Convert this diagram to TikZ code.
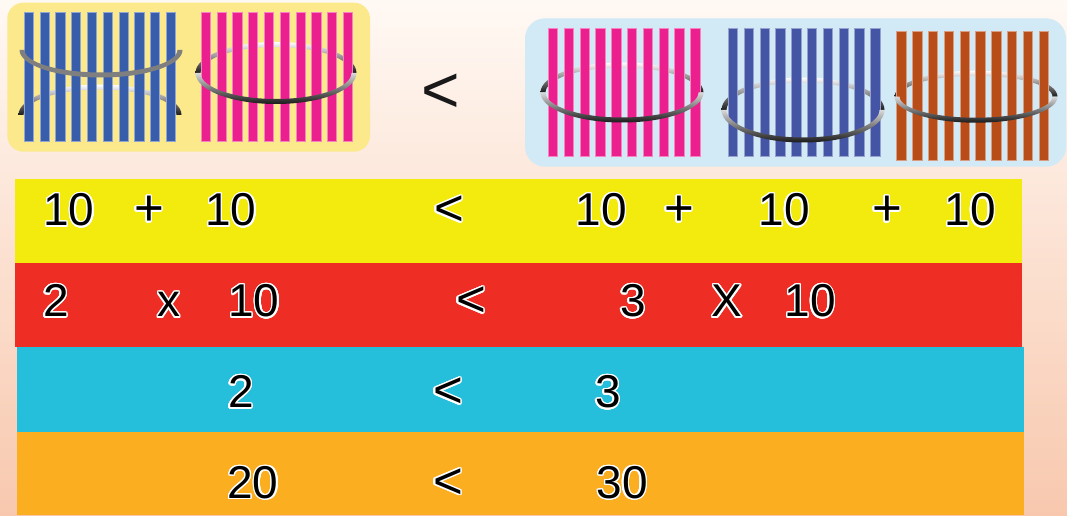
\documentclass[tikz,border=0pt]{standalone}
\usepackage{fontspec}
\setmainfont{Liberation Sans}
\usepackage{contour}
\contourlength{1.4pt}
\contournumber{24}
\definecolor{bgtop}{HTML}{FFF9F4}
\definecolor{bgbot}{HTML}{F8C8AE}
\definecolor{boxY}{HTML}{FBE98B}
\definecolor{boxB}{HTML}{D2E9F6}
\definecolor{barBlueA}{HTML}{385DAB}
\definecolor{barPink}{HTML}{EC1F8E}
\definecolor{barBlueB}{HTML}{4455A6}
\definecolor{barOrange}{HTML}{B94D1A}
\definecolor{rowY}{HTML}{F3EA0E}
\definecolor{rowR}{HTML}{EE2D24}
\definecolor{rowC}{HTML}{26BFDB}
\definecolor{rowO}{HTML}{FBAF20}
\definecolor{ringgray}{HTML}{7F7F7F}

\newcommand{\MyBars}[4]{%
  \foreach \i in {0,...,9}{\fill[#4, draw=#4!55!white, line width=0.6pt] ({#1+\i*15.8},#2) rectangle ++(9.3,#3);}%
}
\newcommand{\RingBack}[4]{%
  \shade[top color=white, middle color=white!70!black, bottom color=black!90]
   ({#1+#3+2.5},#2) arc[start angle=0,end angle=180,x radius={#3+2.5},y radius={#4+2.5}]
   -- ({#1-#3+2.5},#2) arc[start angle=180,end angle=0,x radius={#3-2.5},y radius={#4-2.5}] -- cycle;}
\newcommand{\RingFront}[4]{%
  \shade[top color=white!85!black, middle color=black!55, bottom color=black!90]
   ({#1-#3-2.5},#2) arc[start angle=180,end angle=360,x radius={#3+2.5},y radius={#4+2.5}]
   -- ({#1+#3-2.5},#2) arc[start angle=360,end angle=180,x radius={#3-2.5},y radius={#4-2.5}] -- cycle;}
\newcommand{\RingFrontFlat}[4]{%
  \fill[ringgray]
   ({#1-#3-2.5},#2) arc[start angle=180,end angle=360,x radius={#3+2.5},y radius={#4+2.5}]
   -- ({#1+#3-2.5},#2) arc[start angle=360,end angle=180,x radius={#3-2.5},y radius={#4-2.5}] -- cycle;}

\tikzset{
  numtxt/.style={inner sep=0pt, outer sep=0pt, anchor=base, font=\fontsize{46}{46}\selectfont},
  optxt/.style={inner sep=0pt, outer sep=0pt, anchor=base, font=\fontsize{51}{51}\selectfont},
}

\begin{document}
\begin{tikzpicture}[x=1pt,y=1pt]
\useasboundingbox (0,0) rectangle (1067,515);
\shade[top color=bgtop, bottom color=bgbot] (0,0) rectangle (1067,515);

% top boxes
\fill[boxY, rounded corners=16pt] (7.3,363.3) rectangle (370,512.3);
\fill[boxB, rounded corners=20pt] (525,348.3) rectangle (1066,496.7);

% back halves of rings
\RingBack{100}{400}{79}{28}
\RingBack{276}{442}{78}{28.5}
\RingBack{622}{422.5}{79}{27.5}
\RingBack{803}{405}{79}{30}
\RingBack{976}{418.3}{79}{23.5}

% bundles
\MyBars{24}{374}{128.3}{barBlueA}
\MyBars{201}{374}{128.3}{barPink}
\MyBars{548.3}{358.3}{128.4}{barPink}
\MyBars{728.3}{358.3}{128.4}{barBlueB}
\MyBars{896.7}{355}{128.3}{barOrange}

% front halves of rings
\RingFrontFlat{101}{465}{79}{25}
\RingFront{276}{442}{78}{28.5}
\RingFront{622}{422.5}{79}{27.5}
\RingFront{803}{405}{79}{30}
\RingFront{976}{418.3}{79}{23.5}

% top comparison sign
\node[inner sep=0pt, outer sep=0pt, anchor=base, font=\fontsize{66}{66}\selectfont, text=black!90] (ltop) at (441,402.4) {<};

% rows
\fill[rowY] (15,251.7) rectangle (1022,336);
\fill[rowR] (15,167.7) rectangle (1022,251.7);
\fill[rowC] (16.7,83.3) rectangle (1024,167.7);
\fill[rowO] (16.7,0) rectangle (1024,83.3);

% row 1
\node[numtxt] (a1) at (69,289.2) {\contour{white}{10}};
\node[optxt]  (a2) at (149,289.2) {\contour{white}{+}};
\node[numtxt] (a3) at (231,289.2) {\contour{white}{10}};
\node[optxt]  (a4) at (449,289.2) {\contour{white}{<}};
\node[numtxt] (a5) at (601,289.2) {\contour{white}{10}};
\node[optxt]  (a6) at (679,289.2) {\contour{white}{+}};
\node[numtxt] (a7) at (784,289.2) {\contour{white}{10}};
\node[optxt]  (a8) at (887,289.2) {\contour{white}{+}};
\node[numtxt] (a9) at (970,289.2) {\contour{white}{10}};

% row 2
\node[numtxt] (b1) at (56,198.2) {\contour{white}{2}};
\node[numtxt] (b2) at (169,198.2) {\contour{white}{x}};
\node[numtxt] (b3) at (254,198.2) {\contour{white}{10}};
\node[optxt]  (b4) at (471,198.2) {\contour{white}{<}};
\node[numtxt] (b5) at (633,198.2) {\contour{white}{3}};
\node[numtxt] (b6) at (727,198.2) {\contour{white}{X}};
\node[numtxt] (b7) at (810,198.2) {\contour{white}{10}};

% row 3
\node[numtxt] (c1) at (241,107.2) {\contour{white}{2}};
\node[optxt]  (c2) at (448,107.2) {\contour{white}{<}};
\node[numtxt] (c3) at (608,107.2) {\contour{white}{3}};

% row 4
\node[numtxt] (d1) at (253,16.5) {\contour{white}{20}};
\node[optxt]  (d2) at (448,16.5) {\contour{white}{<}};
\node[numtxt] (d3) at (622,16.5) {\contour{white}{30}};
\end{tikzpicture}
\end{document}
